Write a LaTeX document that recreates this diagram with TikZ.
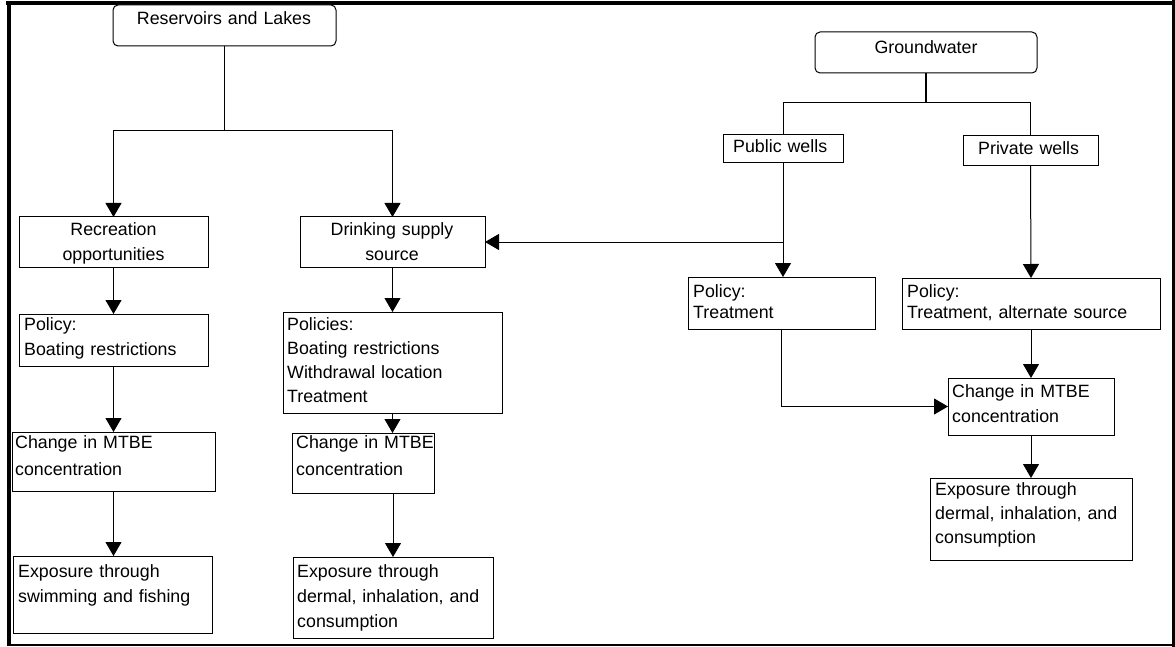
\documentclass[tikz,border=0pt]{standalone}
\usepackage{fontspec}
\setmainfont{Liberation Sans}
\usetikzlibrary{arrows.meta}
\begin{document}
\begin{tikzpicture}[x=1pt,y=-1pt,
  box/.style={draw, line width=1pt, rectangle, inner sep=0pt, outer sep=0pt, anchor=north west, fill=white},
  rbox/.style={box, rounded corners=5pt},
  txt/.style={inner sep=0pt, font=\fontsize{17.8}{#1}\selectfont, text width=330pt, align=left, anchor=base west},
  txt/.default=25,
  ctxt/.style={inner sep=0pt, font=\fontsize{17.8}{#1}\selectfont, text width=220pt, align=center, anchor=base},
  ctxt/.default=25,
  conn/.style={line width=1pt},
  arr/.style={conn, -{Triangle[width=16pt,length=14pt]}}]
\useasboundingbox (0,0) rectangle (1175,647);
% frame
\draw[line width=4pt] (6,3) -- (1175,3);
\draw[line width=4pt] (9,1) -- (9,646);
\draw[line width=3pt] (1173.5,0) -- (1173.5,647);
\draw[line width=2pt] (9,644.5) -- (1175,644.5);
% boxes
\node[rbox, minimum width=223pt, minimum height=41pt] (rl) at (113,5) {};
\node[rbox, minimum width=222pt, minimum height=41pt] (gw) at (815,32) {};
\node[box, minimum width=120pt, minimum height=28pt] (pub) at (723,135) {};
\node[box, minimum width=135pt, minimum height=30pt] (priv) at (963,136) {};
\node[box, minimum width=189pt, minimum height=50pt] (rec) at (19,217) {};
\node[box, minimum width=185pt, minimum height=50pt] (drink) at (300,217) {};
\node[box, minimum width=189pt, minimum height=52pt] (lpol) at (19,314) {};
\node[box, minimum width=219pt, minimum height=101pt] (pols) at (283,312) {};
\node[box, minimum width=203pt, minimum height=59pt] (chL) at (12,432) {};
\node[box, minimum width=142pt, minimum height=60pt] (chM) at (292,433) {};
\node[box, minimum width=199pt, minimum height=77pt] (expL) at (13,556) {};
\node[box, minimum width=200pt, minimum height=81pt] (expM) at (293,557) {};
\node[box, minimum width=187pt, minimum height=52pt] (treat) at (688,277) {};
\node[box, minimum width=258pt, minimum height=51pt] (ppol) at (902,278) {};
\node[box, minimum width=166pt, minimum height=57pt] (chR) at (948,378) {};
\node[box, minimum width=202pt, minimum height=82pt] (expR) at (930,478) {};
% texts
\node[ctxt] (rlT) at (224,25) {Reservoirs and Lakes};
\node[ctxt] (gwT) at (926,54) {Groundwater};
\node[txt] (pubT) at (733,153) {Public wells};
\node[txt] (privT) at (978,155) {Private wells};
\node[ctxt] (recT) at (113.5,235) {Recreation\\opportunities};
\node[ctxt] (drinkT) at (392,235) {Drinking supply\\source};
\node[txt] (lpolT) at (24,330) {Policy:\\Boating restrictions};
\node[txt=24] (polsT) at (287,330) {Policies:\\Boating restrictions\\Withdrawal location\\Treatment};
\node[txt=27] (chLT) at (15,448) {Change in MTBE\\concentration};
\node[txt=27] (chMT) at (296,448) {Change in MTBE\\concentration};
\node[txt] (expLT) at (18,577) {Exposure through\\swimming and fishing};
\node[txt] (expMT) at (297,577) {Exposure through\\dermal, inhalation, and\\consumption};
\node[txt=21] (treatT) at (693,297) {Policy:\\Treatment};
\node[txt=21] (ppolT) at (907,297) {Policy:\\Treatment, alternate source};
\node[txt] (chRT) at (952,397) {Change in MTBE\\concentration};
\node[txt=24] (expRT) at (935,495) {Exposure through\\dermal, inhalation, and\\consumption};
% connectors
\draw[conn] (rl.south) -- ++(0,85) coordinate (rlj);
\draw[arr] (rlj) -| (rec.north);
\draw[arr] (rlj) -| (drink.north);
\draw[line width=2pt] (gw.south) -- ++(0,30) coordinate (gwj);
\draw[conn] (gwj) -| (pub.north);
\draw[conn] (gwj) -| (priv.north);
\draw[arr] (pub.south) -- (pub.south |- treat.north);
\draw[arr] (pub.south |- drink.east) -- (drink.east);
\draw[arr] (priv.south) -- (ppol.north);
\draw[arr] (treat.south) |- (chR.west);
\draw[arr] (ppol.south) -- (chR.north);
\draw[arr] (chR.south) -- (expR.north);
\draw[arr] (rec.south) -- (lpol.north);
\draw[arr] (lpol.south) -- (chL.north);
\draw[arr] (chL.south) -- (chL.south |- expL.north);
\draw[arr] (drink.south) -- (pols.north);
\draw[arr] (pols.south) -- (pols.south |- chM.north);
\draw[arr] (expM.north |- chM.south) -- (expM.north);
\end{tikzpicture}
\end{document}
